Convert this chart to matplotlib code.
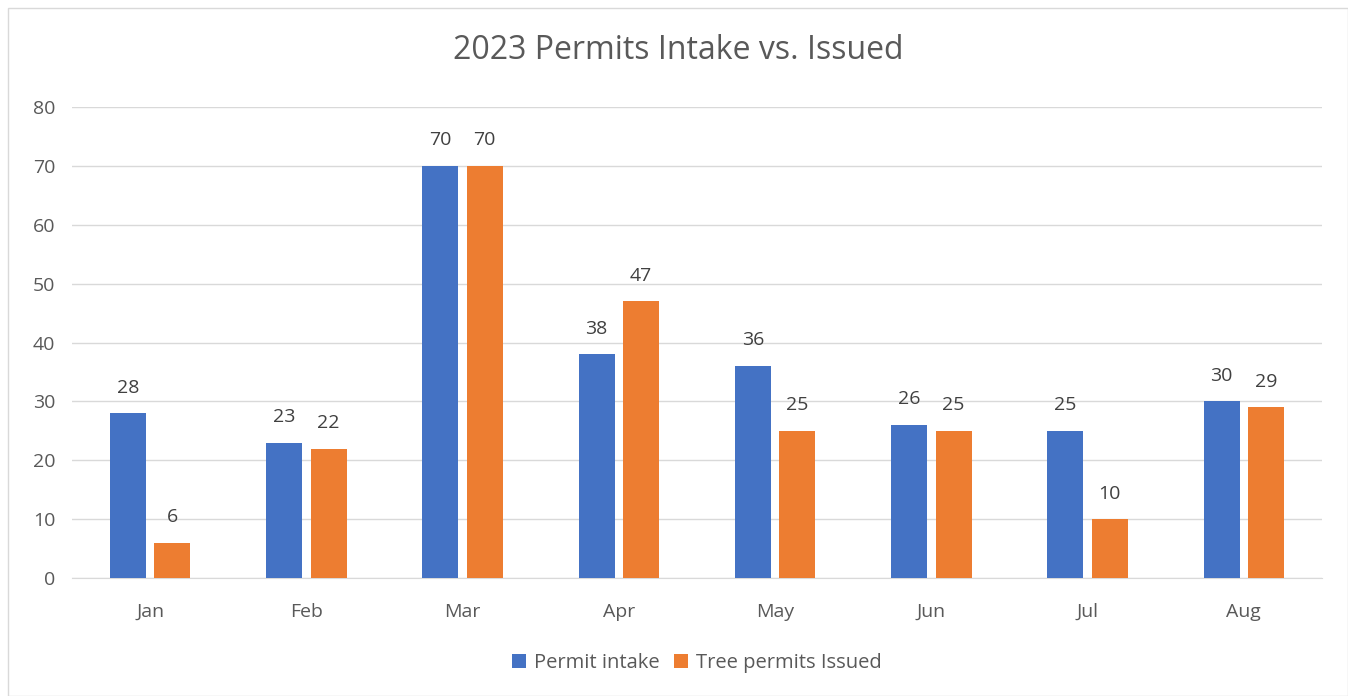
import numpy as np
import matplotlib.pyplot as plt
from matplotlib.patches import Rectangle

months = ['Jan', 'Feb', 'Mar', 'Apr', 'May', 'Jun', 'Jul', 'Aug']
permit_intake = [28, 23, 70, 38, 36, 26, 25, 30]
permits_issued = [6, 22, 70, 47, 25, 25, 10, 29]

blue = '#4472C4'
orange = '#ED7D31'
text_color = '#595959'
plt.rcParams['font.family'] = ['Open Sans', 'DejaVu Sans']

fig = plt.figure(figsize=(13.48, 6.96), dpi=100)
ax = fig.add_axes([0.0534, 0.1695, 0.9273, 0.6765])

x = np.arange(len(months))
w = 0.23
b1 = ax.bar(x - 0.142, permit_intake, w, color=blue, label='Permit intake', zorder=3)
b2 = ax.bar(x + 0.142, permits_issued, w, color=orange, label='Tree permits Issued', zorder=3)

for bars in (b1, b2):
    ax.bar_label(bars, padding=12, fontsize=14, color='#404040')

ax.set_xlim(-0.5, len(months) - 0.5)
ax.set_ylim(0, 80)
ax.set_yticks(range(0, 81, 10))
ax.set_xticks(x)
ax.set_xticklabels(months)
ax.yaxis.grid(True, color='#D9D9D9', linewidth=1, zorder=0)
ax.tick_params(axis='both', length=0, labelsize=14, labelcolor=text_color)
ax.tick_params(axis='x', pad=18)
ax.tick_params(axis='y', pad=12)
for s in ['top', 'right', 'left']:
    ax.spines[s].set_visible(False)
ax.spines['bottom'].set_color('#D9D9D9')

fig.text(0.503, 0.928, '2023 Permits Intake vs. Issued', ha='center', va='center',
         fontsize=23, color=text_color)

ax.legend(loc='upper center', bbox_to_anchor=(0.5, -0.12), ncol=2, frameon=False,
          fontsize=14.5, labelcolor=text_color, handlelength=0.7, handleheight=0.7,
          handletextpad=0.4, columnspacing=0.7)

fig.patches.append(Rectangle((8 / 1348, 0), 1 - 8 / 1348, 1 - 8 / 696,
                             transform=fig.transFigure, fill=False,
                             edgecolor='#D9D9D9', linewidth=1))

fig.savefig('out.png', dpi=100)
